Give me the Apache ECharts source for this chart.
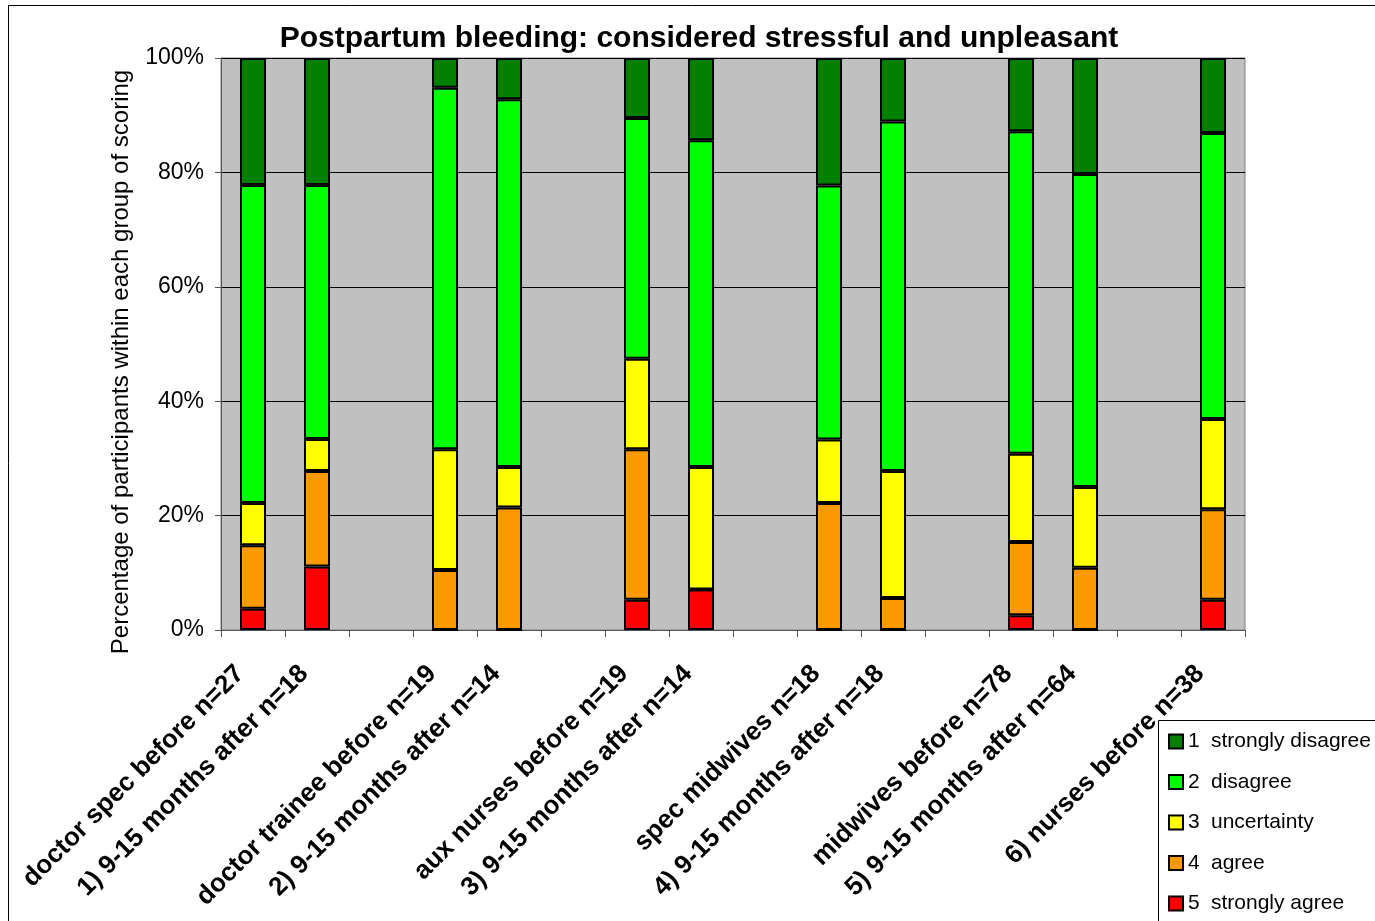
<!DOCTYPE html>
<html>
<head>
<meta charset="utf-8">
<script src="https://cdn.jsdelivr.net/npm/echarts@6/dist/echarts.min.js"></script>
<style>
html,body{margin:0;padding:0;background:#fff;}
#chart{width:1375px;height:921px;}
</style>
</head>
<body>
<div id="chart"></div>
<script>
const titleText = 'Postpartum bleeding: considered stressful and unpleasant';
const yAxisName = 'Percentage of participants within each group of scoring';
const categories = [
  'doctor spec before n=27', '1) 9-15 months after n=18', '',
  'doctor trainee before n=19', '2) 9-15 months after n=14', '',
  'aux nurses before n=19', '3) 9-15 months after n=14', '',
  'spec midwives n=18', '4) 9-15 months after n=18', '',
  'midwives before n=78', '5) 9-15 months after n=64', '',
  '6) nurses before n=38'
];
// percentages (bottom to top of each stack)
const stronglyAgree    = [3.7, 11.1, null, 0,    0,    null, 5.3,  7.1,  null, 0,    0,    null, 2.6,  0,    null, 5.3];
const agree            = [11.1, 16.7, null, 10.5, 21.4, null, 26.3, 0,    null, 22.2, 5.6,  null, 12.8, 10.9, null, 15.8];
const uncertainty      = [7.4, 5.6,  null, 21.1, 7.1,  null, 15.8, 21.4, null, 11.1, 22.2, null, 15.4, 14.1, null, 15.8];
const disagree         = [55.6, 44.4, null, 63.2, 64.3, null, 42.1, 57.1, null, 44.4, 61.1, null, 56.4, 54.7, null, 50.0];
const stronglyDisagree = [22.2, 22.2, null, 5.2,  7.2,  null, 10.5, 14.4, null, 22.3, 11.1, null, 12.8, 20.3, null, 13.1];
const yTicks = [0, 20, 40, 60, 80, 100];

const legendNums   = ['1', '2', '3', '4', '5'];
const legendLabels = ['strongly disagree', 'disagree', 'uncertainty', 'agree', 'strongly agree'];
const seriesNames  = legendNums.map((n, i) => n + ' ' + legendLabels[i]);
const colors = ['#008000', '#00FF00', '#FFFF00', '#FF9900', '#FF0000'];
const values = [stronglyDisagree, disagree, uncertainty, agree, stronglyAgree];

const FONT = 'Liberation Sans, Arial, sans-serif';
const chart = echarts.init(document.getElementById('chart'));

// stack bottom-up: strongly agree first
const order = [4, 3, 2, 1, 0];
const series = order.map(i => ({
  name: seriesNames[i],
  type: 'bar',
  stack: 'total',
  barWidth: 26,
  data: values[i],
  itemStyle: { color: colors[i], borderColor: '#000', borderWidth: 2 },
  emphasis: { disabled: true }
}));

chart.setOption({
  animation: false,
  backgroundColor: '#fff',
  title: {
    text: titleText,
    left: 694,
    top: 19,
    textAlign: 'center',
    textStyle: { fontFamily: FONT, fontSize: 30, fontWeight: 'bold', color: '#000' }
  },
  graphic: [
    { type: 'rect', z: 0, shape: { x: 8.5, y: 5.5, width: 1400, height: 1000 },
      style: { fill: 'none', stroke: '#000', lineWidth: 1 } },
    { type: 'rect', z: 0, shape: { x: 1158.5, y: 720.5, width: 300, height: 300 },
      style: { fill: '#fff', stroke: '#000', lineWidth: 1 } }
  ],
  legend: {
    orient: 'vertical',
    left: 1168,
    top: 731,
    padding: 0,
    itemWidth: 14,
    itemHeight: 14,
    itemGap: 19.5,
    icon: 'rect',
    data: seriesNames,
    formatter: name => {
      const i = seriesNames.indexOf(name);
      return '{n|' + legendNums[i] + '}{t|' + legendLabels[i] + '}';
    },
    textStyle: {
      fontFamily: FONT, fontSize: 21, color: '#000',
      rich: {
        n: { fontFamily: FONT, fontSize: 21, color: '#000', width: 23 },
        t: { fontFamily: FONT, fontSize: 21, color: '#000' }
      }
    }
  },
  grid: {
    left: 221, top: 58, right: 130, bottom: 291,
    show: true, backgroundColor: '#C0C0C0', borderColor: '#808080', borderWidth: 1
  },
  xAxis: {
    type: 'category',
    data: categories,
    axisLine: { lineStyle: { color: '#555', width: 1 } },
    axisTick: { show: true, interval: 0, alignWithLabel: false, length: 7, lineStyle: { color: '#555' } },
    axisLabel: {
      interval: 0, rotate: 45, margin: 27, padding: [0, 18, 0, 0],
      fontFamily: FONT, fontSize: 26, fontWeight: 'bold', color: '#000'
    },
    splitLine: { show: false }
  },
  yAxis: {
    type: 'value',
    min: 0, max: 100, interval: 20,
    name: yAxisName,
    nameLocation: 'middle',
    nameGap: 88,
    nameTextStyle: { fontFamily: FONT, fontSize: 24, color: '#000', padding: [0, 36, 0, 0] },
    axisLine: { show: true, lineStyle: { color: '#555', width: 1 } },
    axisTick: { show: true, length: 6, lineStyle: { color: '#555' } },
    axisLabel: {
      margin: 17, fontFamily: FONT, fontSize: 23, color: '#000',
      formatter: v => (yTicks.indexOf(v) >= 0 ? v + '%' : '')
    },
    splitLine: { show: true, lineStyle: { color: '#000', width: 1 } }
  },
  series: series
});
</script>
</body>
</html>
